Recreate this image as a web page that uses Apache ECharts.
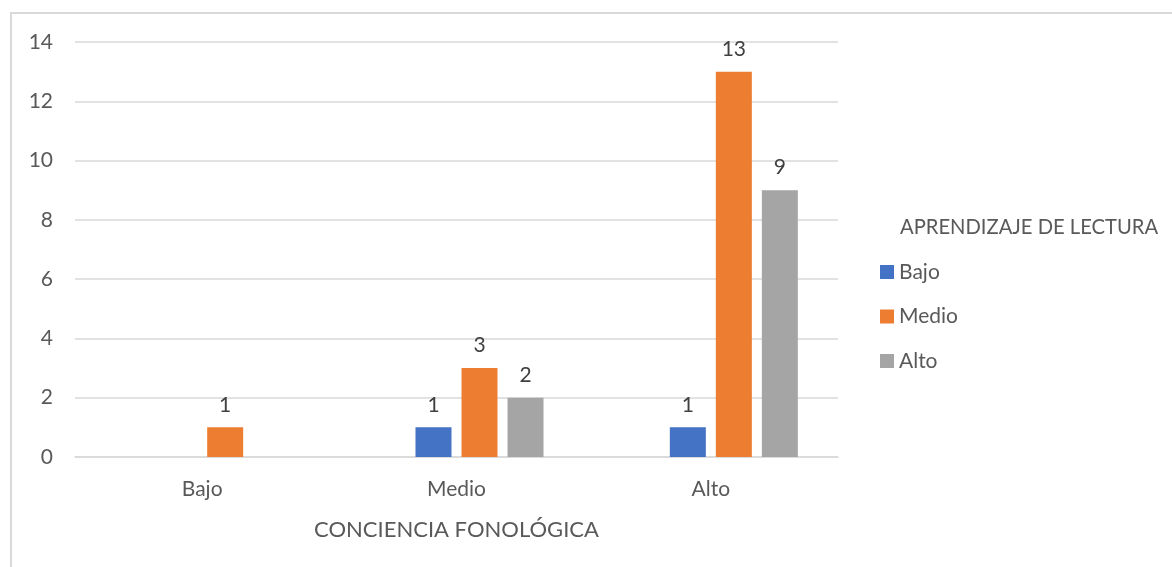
<!DOCTYPE html>
<html>
<head>
<meta charset="utf-8">
<title>Conciencia fonológica vs aprendizaje de lectura</title>
<script src="https://cdn.jsdelivr.net/npm/echarts@6/dist/echarts.min.js"></script>
<style>
	html, body { margin: 0; padding: 0; background: #fff; }
	#chart { width: 1172px; height: 567px; }
</style>
</head>
<body>
<div id="chart"></div>
<script>
	// datos
	const categories = ['Bajo', 'Medio', 'Alto'];
	const serieBajo = [null, 1, 1];
	const serieMedio = [1, 3, 13];
	const serieAlto = [null, 2, 9];
	const yTicks = { min: 0, max: 14, interval: 2 };

	const font = 'Lato, "Liberation Sans", sans-serif';
	const gridColor = '#d9d9d9';

	function barSeries(name, data, color) {
		return {
			name: name,
			type: 'bar',
			data: data,
			barWidth: 36,
			barGap: '27.8%',
			itemStyle: { color: color },
			label: {
				show: true,
				position: 'top',
				distance: 12,
				color: '#404040',
				fontFamily: font,
				fontSize: 21
			}
		};
	}

	const myChart = echarts.init(document.getElementById('chart'));
	const option = {
		animation: false,
		backgroundColor: '#fff',
		textStyle: { fontFamily: font },
		title: {
			text: 'APRENDIZAJE DE LECTURA',
			left: 900,
			top: 217,
			padding: 0,
			textStyle: { color: '#595959', fontSize: 20.2, fontWeight: 'normal', fontFamily: font }
		},
		legend: {
			data: ['Bajo', 'Medio', 'Alto'],
			orient: 'vertical',
			left: 880,
			top: 261,
			padding: 0,
			icon: 'rect',
			itemWidth: 14,
			itemHeight: 14,
			itemGap: 22.5,
			textStyle: { color: '#595959', fontSize: 21, lineHeight: 22, fontFamily: font }
		},
		graphic: [{
			type: 'rect',
			shape: { x: 11, y: 13, width: 1300, height: 700 },
			style: { fill: 'none', stroke: gridColor, lineWidth: 2 },
			silent: true
		}],
		grid: { left: 75, right: 334, top: 42, bottom: 110 },
		xAxis: {
			type: 'category',
			data: categories,
			name: 'CONCIENCIA FONOLÓGICA',
			nameLocation: 'middle',
			nameGap: 62,
			nameTextStyle: { color: '#595959', fontSize: 22, fontFamily: font },
			axisLine: { lineStyle: { color: gridColor, width: 1.5 } },
			axisTick: { show: false },
			axisLabel: { color: '#595959', fontSize: 21, margin: 22, fontFamily: font }
		},
		yAxis: {
			type: 'value',
			min: yTicks.min,
			max: yTicks.max,
			interval: yTicks.interval,
			axisLine: { show: false },
			axisTick: { show: false },
			axisLabel: { color: '#595959', fontSize: 21, margin: 22, fontFamily: font },
			splitLine: { lineStyle: { color: gridColor, width: 1.5 } }
		},
		series: [
			// serie vacia de Excel, ocupa el primer hueco de cada grupo
			{ name: '', type: 'bar', data: [null, null, null], barWidth: 36, barGap: '27.8%' },
			barSeries('Bajo', serieBajo, '#4472c4'),
			barSeries('Medio', serieMedio, '#ed7d31'),
			barSeries('Alto', serieAlto, '#a5a5a5')
		]
	};
	myChart.setOption(option);
</script>
</body>
</html>
